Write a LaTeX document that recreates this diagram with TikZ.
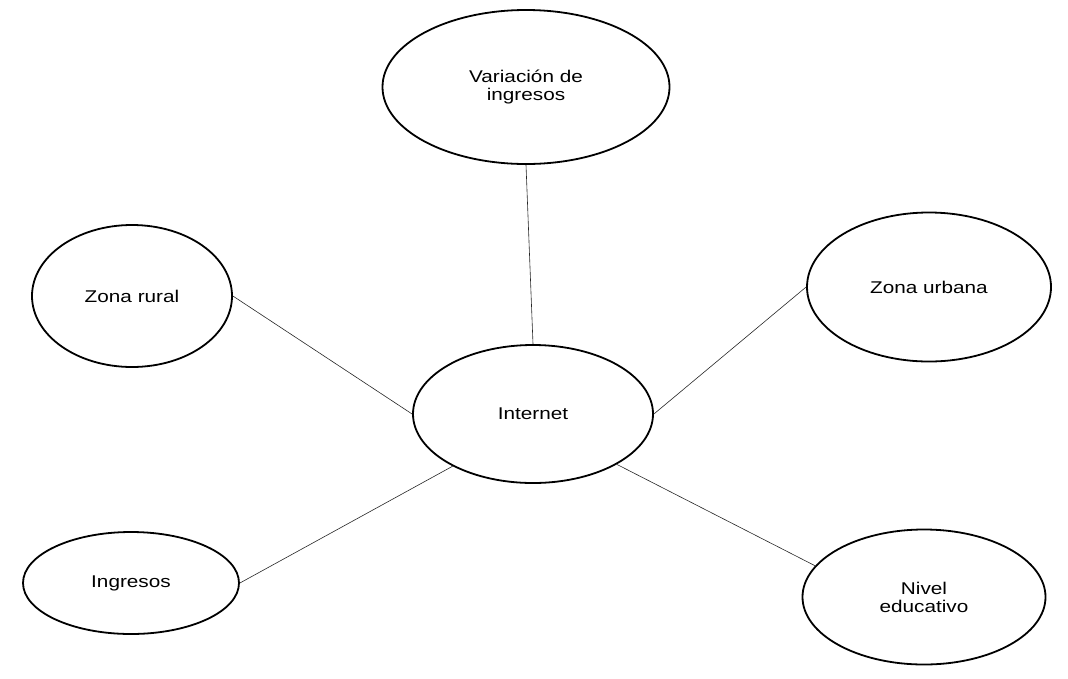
\documentclass[tikz,border=0pt]{standalone}
\usepackage{fontspec}
\setmainfont[FakeStretch=1.22]{Liberation Sans}
\usetikzlibrary{shapes.geometric}
\begin{document}
\begin{tikzpicture}[x=1pt,y=-1pt,
  bubble/.style={ellipse,draw=black,line width=1.8pt,fill=white,inner sep=0pt,align=center,
    font=\fontsize{17}{18}\selectfont},
  link/.style={draw=black!85,line width=0.6pt}]
\useasboundingbox (0,0) rectangle (1068,678);
\node[bubble,minimum width=287pt,minimum height=154pt] (var) at (526,87) {Variación de\\ingresos};
\node[bubble,minimum width=200pt,minimum height=142pt] (rural) at (132,296) {Zona rural};
\node[bubble,minimum width=244pt,minimum height=149pt] (urb) at (929,287) {Zona urbana};
\node[bubble,minimum width=240pt,minimum height=138pt] (int) at (533,414) {Internet};
\node[bubble,minimum width=216pt,minimum height=102pt] (ing) at (131,583) {Ingresos};
\node[bubble,minimum width=243pt,minimum height=135pt] (niv) at (924,597) {Nivel\\educativo};
\draw[link] (var.-90) -- (int.90);
\draw[link] (rural.east) -- (int.west);
\draw[link] (urb.west) -- (int.east);
\draw[link] (ing.east) -- (int.213);
\draw[link] (int.-31) -- (niv.164);
\end{tikzpicture}
\end{document}
